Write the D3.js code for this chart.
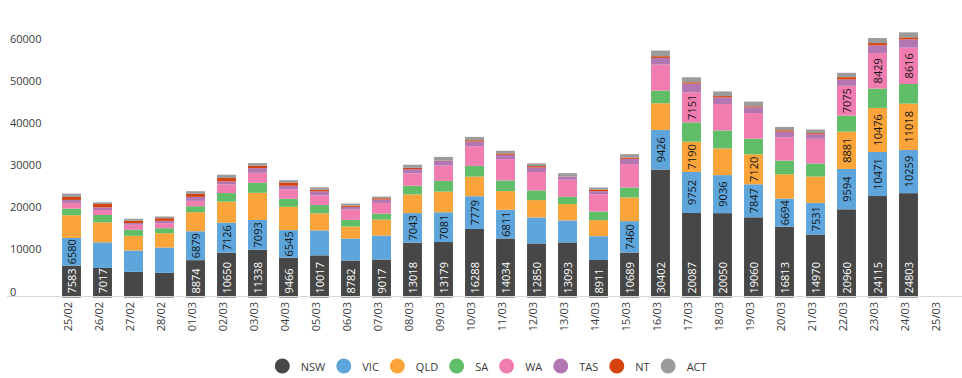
<!DOCTYPE html>
<html>
<head>
<meta charset="utf-8">
<script src="https://cdn.jsdelivr.net/npm/d3@7"></script>
<style>
  html, body { margin: 0; padding: 0; background: #fff; }
  svg { display: block; font-family: "Open Sans", "Noto Sans", sans-serif; }
</style>
</head>
<body>
<svg id="chart" width="962" height="378"></svg>
<script>
const categories = ["25/02","26/02","27/02","28/02","01/03","02/03","03/03","04/03","05/03","06/03","07/03","08/03","09/03","10/03","11/03","12/03","13/03","14/03","15/03","16/03","17/03","18/03","19/03","20/03","21/03","22/03","23/03","24/03","25/03"];
const seriesNames = ["NSW","VIC","QLD","SA","WA","TAS","NT","ACT"];
const NSW = [7583,7017,6100,5860,8874,10650,11338,9466,10017,8782,9017,13018,13179,16288,14034,12850,13093,8911,10689,30402,20087,20050,19060,16813,14970,20960,24115,24803,0];
const VIC = [6580,6100,5070,6020,6879,7126,7093,6545,5940,5230,5700,7043,7081,7779,6811,6180,5230,5660,7460,9426,9752,9036,7847,6694,7531,9594,10471,10259,0];
const QLD = [5390,4750,3490,3400,4516,4990,6450,5546,4040,2850,3800,4437,4912,4675,4437,4120,3880,3800,5625,6340,7190,6340,7120,5780,6260,8881,10476,11018,0];
const SA  = [1580,1740,1430,1190,1426,2060,2377,1900,1980,1585,1426,2060,2535,2535,2535,2300,1743,2060,2377,3010,4595,4280,3724,3250,3090,3800,4595,4675,0];
const WA  = [1350,1190,1190,1190,1268,2060,2377,2220,2300,2456,2535,2930,3645,4675,5070,4360,4040,4120,5546,6180,7151,6260,6100,5546,5860,7075,8429,8616,0];
const TAS = [710,630,400,555,950,713,1110,870,950,634,792,1030,1110,1110,1030,1110,713,713,1268,1585,2060,1585,1350,1350,1110,1500,1820,1980,0];
const NT  = [710,790,555,634,713,790,555,790,400,317,317,317,80,317,317,317,60,400,317,400,317,317,240,317,240,555,555,475,0];
const ACT = [790,400,475,400,634,790,634,555,555,475,400,713,870,790,634,634,790,475,790,1350,1190,1110,1110,790,870,1030,1190,1190,0];
const yTicks = [0,10000,20000,30000,40000,50000,60000];
const colors = ["#474747","#5DA5DA","#FAA43A","#60BD68","#F17CB0","#B276B2","#D4430E","#9B9B9B"];
const labelMin = 6500;

const seriesValues = [NSW,VIC,QLD,SA,WA,TAS,NT,ACT];
const rows = categories.map((c,i) => {
  const r = {cat: c};
  seriesNames.forEach((s,k) => r[s] = seriesValues[k][i]);
  return r;
});

const svg = d3.select("#chart");
const x = d3.scaleBand().domain(categories).range([56,955]).paddingInner(0.39).paddingOuter(0.195);
const y = d3.scaleLinear().domain([0,65000]).range([297.5,24]);
const color = d3.scaleOrdinal().domain(seriesNames).range(colors);

const stack = d3.stack().keys(seriesNames)(rows);

// bars
const layers = svg.append("g").selectAll("g").data(stack).join("g")
  .attr("fill", d => color(d.key));
layers.selectAll("rect").data(d => d.map(p => ({p, key: d.key}))).join("rect")
  .attr("x", d => x(d.p.data.cat))
  .attr("width", x.bandwidth())
  .attr("y", d => y(d.p[1]))
  .attr("height", d => Math.max(0, y(d.p[0]) - y(d.p[1])));

// axis line
svg.append("line").attr("x1",7).attr("x2",962).attr("y1",296.5).attr("y2",296.5)
  .attr("stroke","#d9d9d9").attr("stroke-width",1);

// y axis
const yAxis = svg.append("g").call(d3.axisLeft(y).tickValues(yTicks).tickSize(0).tickFormat(d3.format("d")));
yAxis.select(".domain").remove();
yAxis.selectAll("text")
  .attr("x", 10).attr("dy", "-2.5").attr("text-anchor","start")
  .attr("fill","#3a3a3a").style("font-size","11px").style("font-family","'Open Sans', sans-serif");

// x axis
const xAxis = svg.append("g").attr("transform","translate(0,297)")
  .call(d3.axisBottom(x).tickSize(0));
xAxis.select(".domain").remove();
xAxis.selectAll("text")
  .attr("transform","rotate(-90)")
  .attr("x", -5).attr("y", 0.5).attr("dy", 0)
  .attr("text-anchor","end")
  .attr("fill","#3a3a3a").style("font-size","11px").style("font-family","'Open Sans', sans-serif");

// data labels
const labels = [];
stack.forEach(layer => {
  layer.forEach(p => {
    const v = p[1] - p[0];
    if (v >= labelMin) labels.push({key: layer.key, p, v});
  });
});
svg.append("g").selectAll("text").data(labels).join("text")
  .attr("transform", d => {
    const cx = x(d.p.data.cat) + x.bandwidth()/2;
    const cy = d.key === "NSW" ? y(d.p[0]) - 4 : (y(d.p[0]) + y(d.p[1]))/2;
    return `translate(${cx},${cy}) rotate(-90)`;
  })
  .attr("text-anchor", d => d.key === "NSW" ? "start" : "middle")
  .attr("dominant-baseline","central")
  .attr("fill", d => d.key === "NSW" ? "#ffffff" : "#141414")
  .style("font-size","11px")
  .text(d => d.v);

// legend
const legend = svg.append("g").attr("transform","translate(0,366)");
const items = legend.selectAll("g").data(seriesNames).join("g");
items.append("circle").attr("r",7.5).attr("fill", d => color(d));
items.append("text").attr("x",18.5).attr("dominant-baseline","central")
  .attr("fill","#3a3a3a").style("font-size","11px").text(d => d);
let pos = 0;
const starts = [];
items.each(function() {
  const tw = d3.select(this).select("text").node().getComputedTextLength();
  starts.push(pos);
  pos += 18.5 + tw + 18.5;
});
const startX = 282.3;
items.attr("transform", (d,i) => `translate(${startX + starts[i]},0)`);
</script>
</body>
</html>
